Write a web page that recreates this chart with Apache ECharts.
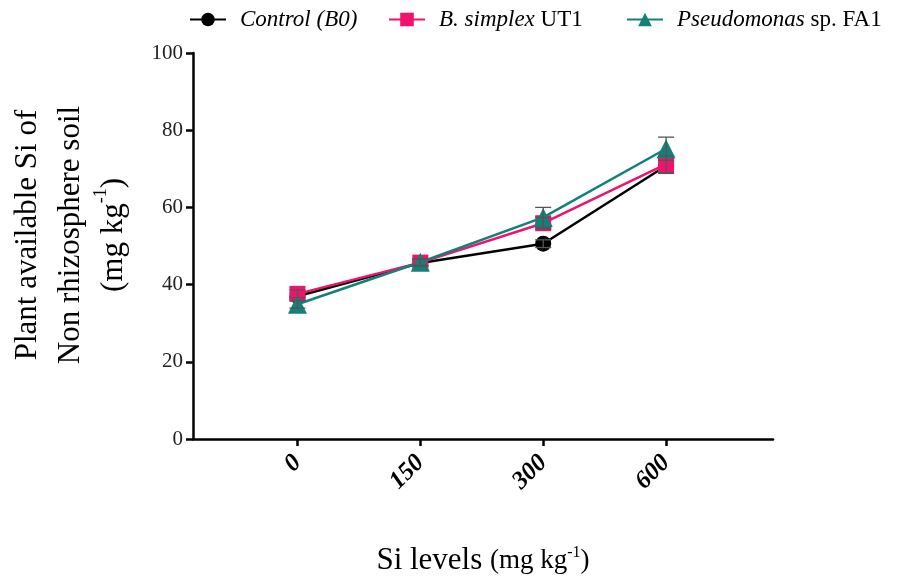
<!DOCTYPE html>
<html>
<head>
<meta charset="utf-8">
<script src="https://cdn.jsdelivr.net/npm/echarts@6/dist/echarts.min.js"></script>
<style>
  html, body { margin: 0; padding: 0; background: #fff; }
  #chart { width: 904px; height: 578px; }
</style>
</head>
<body>
<div id="chart"></div>
<script>
// Si levels (mg kg-1), plotted at equal spacing
const siLevels = ['0', '150', '300', '600'];
const positions = [0, 1, 2, 3];

const controlMean = [37.0, 45.6, 50.6, 70.8];
const controlErr = [0.8, 0.7, 1.0, 2.0];

const simplexMean = [37.6, 45.7, 55.9, 71.2];
const simplexErr = [1.0, 1.0, 1.5, 2.2];

const pseudoMean = [34.9, 45.8, 57.4, 75.2];
const pseudoErr = [1.0, 0.8, 2.6, 3.0];

const legendNames = ['Control (B0)', 'B. simplex UT1', 'Pseudomonas sp. FA1'];
const legendLeft = [184, 383, 621];

const FONT = '"Liberation Serif", "Times New Roman", serif';
const colors = { control: '#000000', simplex: '#f0126e', pseudo: '#138079' };

function pts(mean) {
  return mean.map((v, i) => [positions[i], v]);
}

function errData(mean, err) {
  return mean.map((v, i) => [positions[i], v - err[i], v + err[i]]);
}

// error bars drawn through the axes
function errorSeries(mean, err, z) {
  return {
    type: 'custom',
    data: errData(mean, err),
    z: z,
    silent: true,
    renderItem: function (params, api) {
      const x = api.value(0);
      const lo = api.coord([x, api.value(1)]);
      const hi = api.coord([x, api.value(2)]);
      const w = 8;
      const style = { stroke: '#555', lineWidth: 1.3 };
      return {
        type: 'group',
        children: [
          { type: 'line', shape: { x1: lo[0], y1: lo[1], x2: hi[0], y2: hi[1] }, style: style },
          { type: 'line', shape: { x1: hi[0] - w, y1: hi[1], x2: hi[0] + w, y2: hi[1] }, style: style },
          { type: 'line', shape: { x1: lo[0] - w, y1: lo[1], x2: lo[0] + w, y2: lo[1] }, style: style }
        ]
      };
    }
  };
}

function legendFor(name, left) {
  return {
    top: 3,
    left: left,
    itemWidth: 36,
    itemHeight: 17,
    data: [name],
    formatter: function (n) {
      if (n === 'Control (B0)') return '{i|Control (B0)}';
      if (n === 'B. simplex UT1') return '{i|B. simplex} {n|UT1}';
      return '{i|Pseudomonas} {n|sp. FA1}';
    },
    textStyle: {
      fontFamily: FONT,
      fontSize: 23,
      color: '#000',
      padding: [0, 0, 0, 9],
      rich: {
        i: { fontFamily: FONT, fontSize: 23, fontStyle: 'italic', color: '#000' },
        n: { fontFamily: FONT, fontSize: 23, color: '#000' }
      }
    }
  };
}

const myChart = echarts.init(document.getElementById('chart'));

const option = {
  animation: false,
  backgroundColor: '#fff',
  legend: legendNames.map((n, i) => legendFor(n, legendLeft[i])),
  grid: { left: 193, right: 131, top: 53, bottom: 139, containLabel: false, outerBoundsMode: 'none' },
  xAxis: {
    type: 'value',
    min: -0.85,
    max: 3.87,
    name: '{a|Si levels }{b|(mg kg}{s|-1}{b|)}',
    nameLocation: 'middle',
    nameGap: 106,
    nameTextStyle: {
      rich: {
        a: { fontFamily: FONT, fontSize: 31, color: '#000' },
        b: { fontFamily: FONT, fontSize: 27, color: '#000' },
        s: { fontFamily: FONT, fontSize: 16, color: '#000', verticalAlign: 'top', padding: [0, 0, 14, 0] }
      }
    },
    splitLine: { show: false },
    axisLine: { show: true, onZero: false, lineStyle: { color: '#000', width: 2.5 } },
    axisTick: { show: true, customValues: positions, length: 7, lineStyle: { color: '#000', width: 2.5 } },
    axisLabel: {
      customValues: positions,
      rotate: 45,
      margin: 20,
      fontFamily: FONT,
      fontSize: 25,
      fontWeight: 'bold',
      fontStyle: 'italic',
      color: '#000',
      formatter: function (v) { return siLevels[Math.round(v)]; }
    }
  },
  yAxis: {
    type: 'value',
    min: 0,
    max: 100,
    interval: 20,
    name: 'Plant available Si of\nNon rhizosphere soil\n{p|(mg kg}{s|-1}{p|)}',
    nameLocation: 'middle',
    nameRotate: 90,
    nameGap: 58,
    nameTextStyle: {
      fontFamily: FONT,
      fontSize: 31,
      color: '#000',
      lineHeight: 43,
      align: 'center',
      padding: [0, 0, 0, 22],
      rich: {
        p: { fontFamily: FONT, fontSize: 31, color: '#000', lineHeight: 43 },
        s: { fontFamily: FONT, fontSize: 18, color: '#000', verticalAlign: 'top', lineHeight: 43, padding: [0, 0, 14, 0] }
      }
    },
    splitLine: { show: false },
    axisLine: { show: true, onZero: false, lineStyle: { color: '#000', width: 2.5 } },
    axisTick: { show: true, length: 7, lineStyle: { color: '#000', width: 2.5 } },
    axisLabel: { fontFamily: FONT, fontSize: 21, color: '#222', margin: 10 }
  },
  series: [
    {
      name: 'Control (B0)',
      type: 'line',
      data: pts(controlMean),
      z: 2,
      symbol: 'circle',
      symbolSize: 16,
      itemStyle: { color: colors.control },
      lineStyle: { color: colors.control, width: 2.5 }
    },
    errorSeries(controlMean, controlErr, 3),
    {
      name: 'Pseudomonas sp. FA1',
      type: 'line',
      data: pts(pseudoMean),
      z: 4,
      symbol: 'triangle',
      symbolSize: 19,
      itemStyle: { color: colors.pseudo },
      lineStyle: { color: colors.pseudo, width: 2.5 }
    },
    errorSeries(pseudoMean, pseudoErr, 5),
    {
      name: 'B. simplex UT1',
      type: 'line',
      data: pts(simplexMean),
      z: 3,
      symbol: 'rect',
      symbolSize: 16,
      itemStyle: { color: colors.simplex },
      lineStyle: { color: colors.simplex, width: 2.5 }
    },
    errorSeries(simplexMean, simplexErr, 5)
  ]
};

myChart.setOption(option);
</script>
</body>
</html>
